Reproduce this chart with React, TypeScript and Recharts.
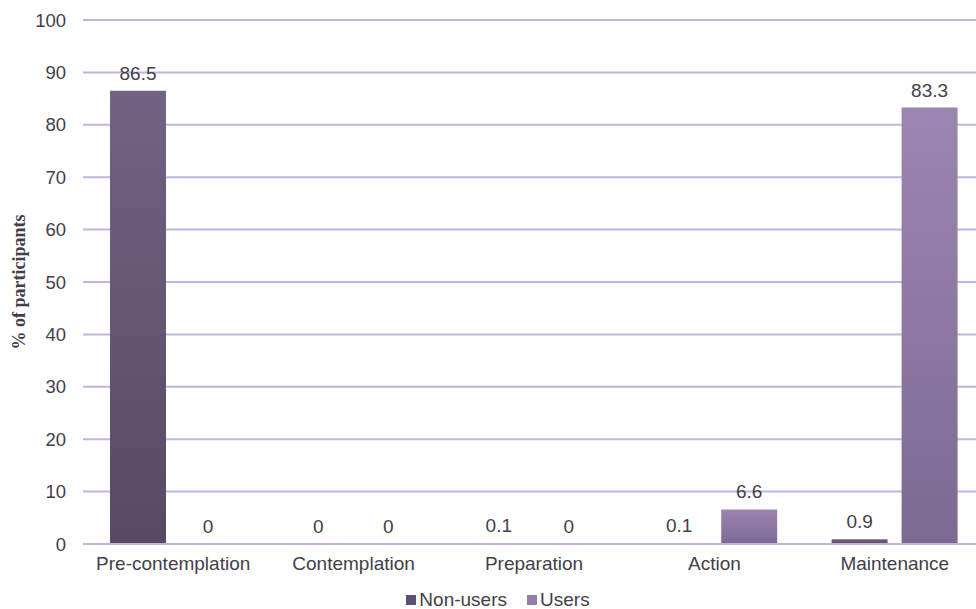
import React from 'react';
import {
  BarChart,
  Bar,
  XAxis,
  YAxis,
  CartesianGrid,
  Legend,
  LabelList,
} from 'recharts';

const stages = ['Pre-contemplation', 'Contemplation', 'Preparation', 'Action', 'Maintenance'];
const nonUsers = [86.5, 0, 0.1, 0.1, 0.9];
const users = [0, 0, 0, 6.6, 83.3];
const yTicks = [0, 10, 20, 30, 40, 50, 60, 70, 80, 90, 100];

const chartData = stages.map((stage, i) => ({
  stage,
  nonUsers: nonUsers[i],
  users: users[i],
}));

const font = '"Liberation Sans", Arial, sans-serif';
const gridColor = '#c6b2dc';
const textColor = '#433e4a';

const legendItems = [
  { label: 'Non-users', color: '#5f5071' },
  { label: 'Users', color: '#9280a8' },
];

function LegendContent() {
  return (
    <div
      style={{
        display: 'flex',
        justifyContent: 'center',
        alignItems: 'center',
        gap: 20,
        paddingLeft: 20,
        fontFamily: font,
        fontSize: 19,
        color: textColor,
        lineHeight: '22px',
      }}
    >
      {legendItems.map((item) => (
        <span key={item.label} style={{ display: 'flex', alignItems: 'center' }}>
          <span
            style={{
              display: 'inline-block',
              width: 10,
              height: 10,
              background: item.color,
              marginRight: 3,
            }}
          />
          {item.label}
        </span>
      ))}
    </div>
  );
}

// plot runs past the right edge in the original, so the chart is wider than the frame
export default function App() {
  return (
    <div
      style={{
        position: 'absolute',
        left: 0,
        top: 0,
        width: 976,
        height: 609,
        overflow: 'hidden',
        background: '#fff',
      }}
    >
      <BarChart
        width={985}
        height={609}
        data={chartData}
        margin={{ top: 20, right: 0, left: 0, bottom: 0 }}
        barCategoryGap={27}
        barGap={14}
      >
        <defs>
          <linearGradient id="gradNon" x1="0" y1="0" x2="0" y2="1">
            <stop offset="0%" stopColor="#736284" />
            <stop offset="100%" stopColor="#574a63" />
          </linearGradient>
          <linearGradient id="gradUsers" x1="0" y1="0" x2="0" y2="1">
            <stop offset="0%" stopColor="#9b86b1" />
            <stop offset="100%" stopColor="#7d6a93" />
          </linearGradient>
        </defs>
        <CartesianGrid vertical={false} stroke={gridColor} strokeWidth={2} />
        <XAxis
          dataKey="stage"
          axisLine={{ stroke: gridColor, strokeWidth: 2 }}
          tickLine={false}
          tick={{ fontSize: 19, fill: textColor, fontFamily: font }}
          tickMargin={7}
          height={43}
        />
        <YAxis
          width={83}
          domain={[0, 100]}
          ticks={yTicks}
          axisLine={false}
          tickLine={false}
          tickMargin={11}
          tick={{ fontSize: 18.5, fill: textColor, fontFamily: font }}
          label={{
            value: '% of participants',
            angle: -90,
            position: 'insideLeft',
            offset: 19,
            style: {
              textAnchor: 'middle',
              fontSize: 18,
              fontWeight: 'bold',
              fontFamily: '"Liberation Serif", "Times New Roman", serif',
              fill: textColor,
            },
          }}
        />
        <Legend
          verticalAlign="bottom"
          height={22}
          content={<LegendContent />}
          wrapperStyle={{ width: 976, left: 0, bottom: -2 }}
        />
        <Bar
          dataKey="nonUsers"
          name="Non-users"
          fill="url(#gradNon)"
          minPointSize={0.01}
          isAnimationActive={false}
        >
          <LabelList
            dataKey="nonUsers"
            position="top"
            offset={11}
            style={{ fontSize: 19, fill: textColor, fontFamily: font }}
          />
        </Bar>
        <Bar
          dataKey="users"
          name="Users"
          fill="url(#gradUsers)"
          minPointSize={0.01}
          isAnimationActive={false}
        >
          <LabelList
            dataKey="users"
            position="top"
            offset={11}
            style={{ fontSize: 19, fill: textColor, fontFamily: font }}
          />
        </Bar>
      </BarChart>
    </div>
  );
}
